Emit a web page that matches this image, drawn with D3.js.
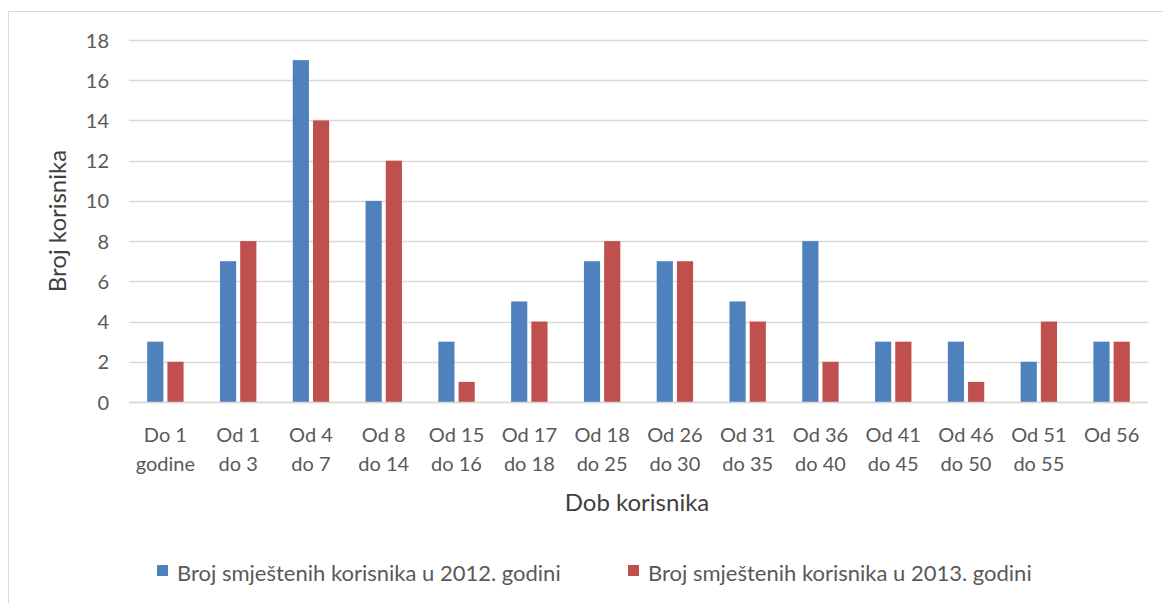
<!DOCTYPE html>
<html>
<head>
<meta charset="utf-8">
<script src="https://cdn.jsdelivr.net/npm/d3@7"></script>
<style>
  body { margin: 0; background: #fff; }
  text { font-family: Lato, "Open Sans", sans-serif; fill: #595959; }
</style>
</head>
<body>
<div id="chart"></div>
<script>
// Age groups (two-line labels)
const categories = [
    ["Do 1", "godine"], ["Od 1", "do 3"], ["Od 4", "do 7"], ["Od 8", "do 14"],
    ["Od 15", "do 16"], ["Od 17", "do 18"], ["Od 18", "do 25"], ["Od 26", "do 30"],
    ["Od 31", "do 35"], ["Od 36", "do 40"], ["Od 41", "do 45"], ["Od 46", "do 50"],
    ["Od 51", "do 55"], ["Od 56"]
];
const values2012 = [3, 7, 17, 10, 3, 5, 7, 7, 5, 8, 3, 3, 2, 3];
const values2013 = [2, 8, 14, 12, 1, 4, 8, 7, 4, 2, 3, 1, 4, 3];
const seriesNames = ["Broj smještenih korisnika u 2012. godini", "Broj smještenih korisnika u 2013. godini"];
const yTicks = [0, 2, 4, 6, 8, 10, 12, 14, 16, 18];

const colors = ["#4F81BD", "#C0504D"];
const width = 1163;
const height = 603;
const margin = { top: 40, right: 15, bottom: 201, left: 129 };

const svg = d3.select("#chart")
    .append("svg")
    .attr("width", width)
    .attr("height", height);

// Outer chart border
svg.append("rect")
    .attr("x", 8.5)
    .attr("y", 11.5)
    .attr("width", width + 10)
    .attr("height", height + 10)
    .attr("fill", "none")
    .attr("stroke", "#d9d9d9");

const x0 = d3.scaleBand()
    .domain(d3.range(categories.length))
    .range([margin.left, width - margin.right])
    .paddingInner(0.5)
    .paddingOuter(0.25);

const x1 = d3.scaleBand()
    .domain([0, 1])
    .range([0, x0.bandwidth()])
    .paddingInner(0.2);

const y = d3.scaleLinear()
    .domain([0, 18])
    .range([height - margin.bottom, margin.top]);

// Gridlines
svg.append("g")
    .selectAll("line")
    .data(yTicks)
    .enter()
    .append("line")
    .attr("x1", margin.left)
    .attr("x2", width - margin.right)
    .attr("y1", d => Math.round(y(d)) + 0.5)
    .attr("y2", d => Math.round(y(d)) + 0.5)
    .attr("stroke", "#d9d9d9")
    .attr("stroke-width", 1.5);

// Y axis labels
const yAxis = svg.append("g")
    .attr("transform", `translate(${margin.left - 20},0)`)
    .call(d3.axisLeft(y).tickValues(yTicks).tickSize(0).tickPadding(0));
yAxis.select(".domain").remove();
yAxis.selectAll("text")
    .style("font-size", "20px")
    .style("font-family", "Lato, sans-serif")
    .attr("dy", "0.35em");

// Bars
const series = [values2012, values2013];
series.forEach((vals, s) => {
    svg.append("g")
        .selectAll("rect")
        .data(vals)
        .enter()
        .append("rect")
        .attr("x", (d, i) => x0(i) + x1(s))
        .attr("y", d => y(d))
        .attr("width", x1.bandwidth())
        .attr("height", d => y(0) - y(d))
        .attr("fill", colors[s]);
});

// Category labels
const xAxis = svg.append("g")
    .attr("transform", `translate(0,${y(0)})`)
    .call(d3.axisBottom(x0).tickSize(0).tickFormat(""));
xAxis.select(".domain").remove();
xAxis.selectAll(".tick")
    .append("text")
    .attr("text-anchor", "middle")
    .style("font-size", "20px")
    .style("font-family", "Lato, sans-serif")
    .selectAll("tspan")
    .data(i => categories[i])
    .enter()
    .append("tspan")
    .attr("x", 0)
    .attr("y", (d, k) => 40 + k * 29)
    .text(d => d);

// Baseline
svg.append("line")
    .attr("x1", margin.left)
    .attr("x2", width - margin.right)
    .attr("y1", y(0) + 0.5)
    .attr("y2", y(0) + 0.5)
    .attr("stroke", "#d9d9d9")
    .attr("stroke-width", 1.5);

// Axis titles
svg.append("text")
    .attr("transform", `translate(66,${(y(0) + y(18)) / 2}) rotate(-90)`)
    .attr("text-anchor", "middle")
    .style("font-size", "24px")
    .style("fill", "#404040")
    .text("Broj korisnika");

svg.append("text")
    .attr("x", 637)
    .attr("y", 511)
    .attr("text-anchor", "middle")
    .style("font-size", "24px")
    .style("fill", "#404040")
    .text("Dob korisnika");

// Legend
const legendX = [157, 628];
const legend = svg.append("g")
    .selectAll("g")
    .data(seriesNames)
    .enter()
    .append("g")
    .attr("transform", (d, i) => `translate(${legendX[i]},574)`);
legend.append("rect")
    .attr("x", 0)
    .attr("y", -9)
    .attr("width", 11)
    .attr("height", 11)
    .attr("fill", (d, i) => colors[i]);
legend.append("text")
    .attr("x", 20)
    .attr("y", 0)
    .attr("dy", "0.3em")
    .style("font-size", "22px")
    .text(d => d);
</script>
</body>
</html>
